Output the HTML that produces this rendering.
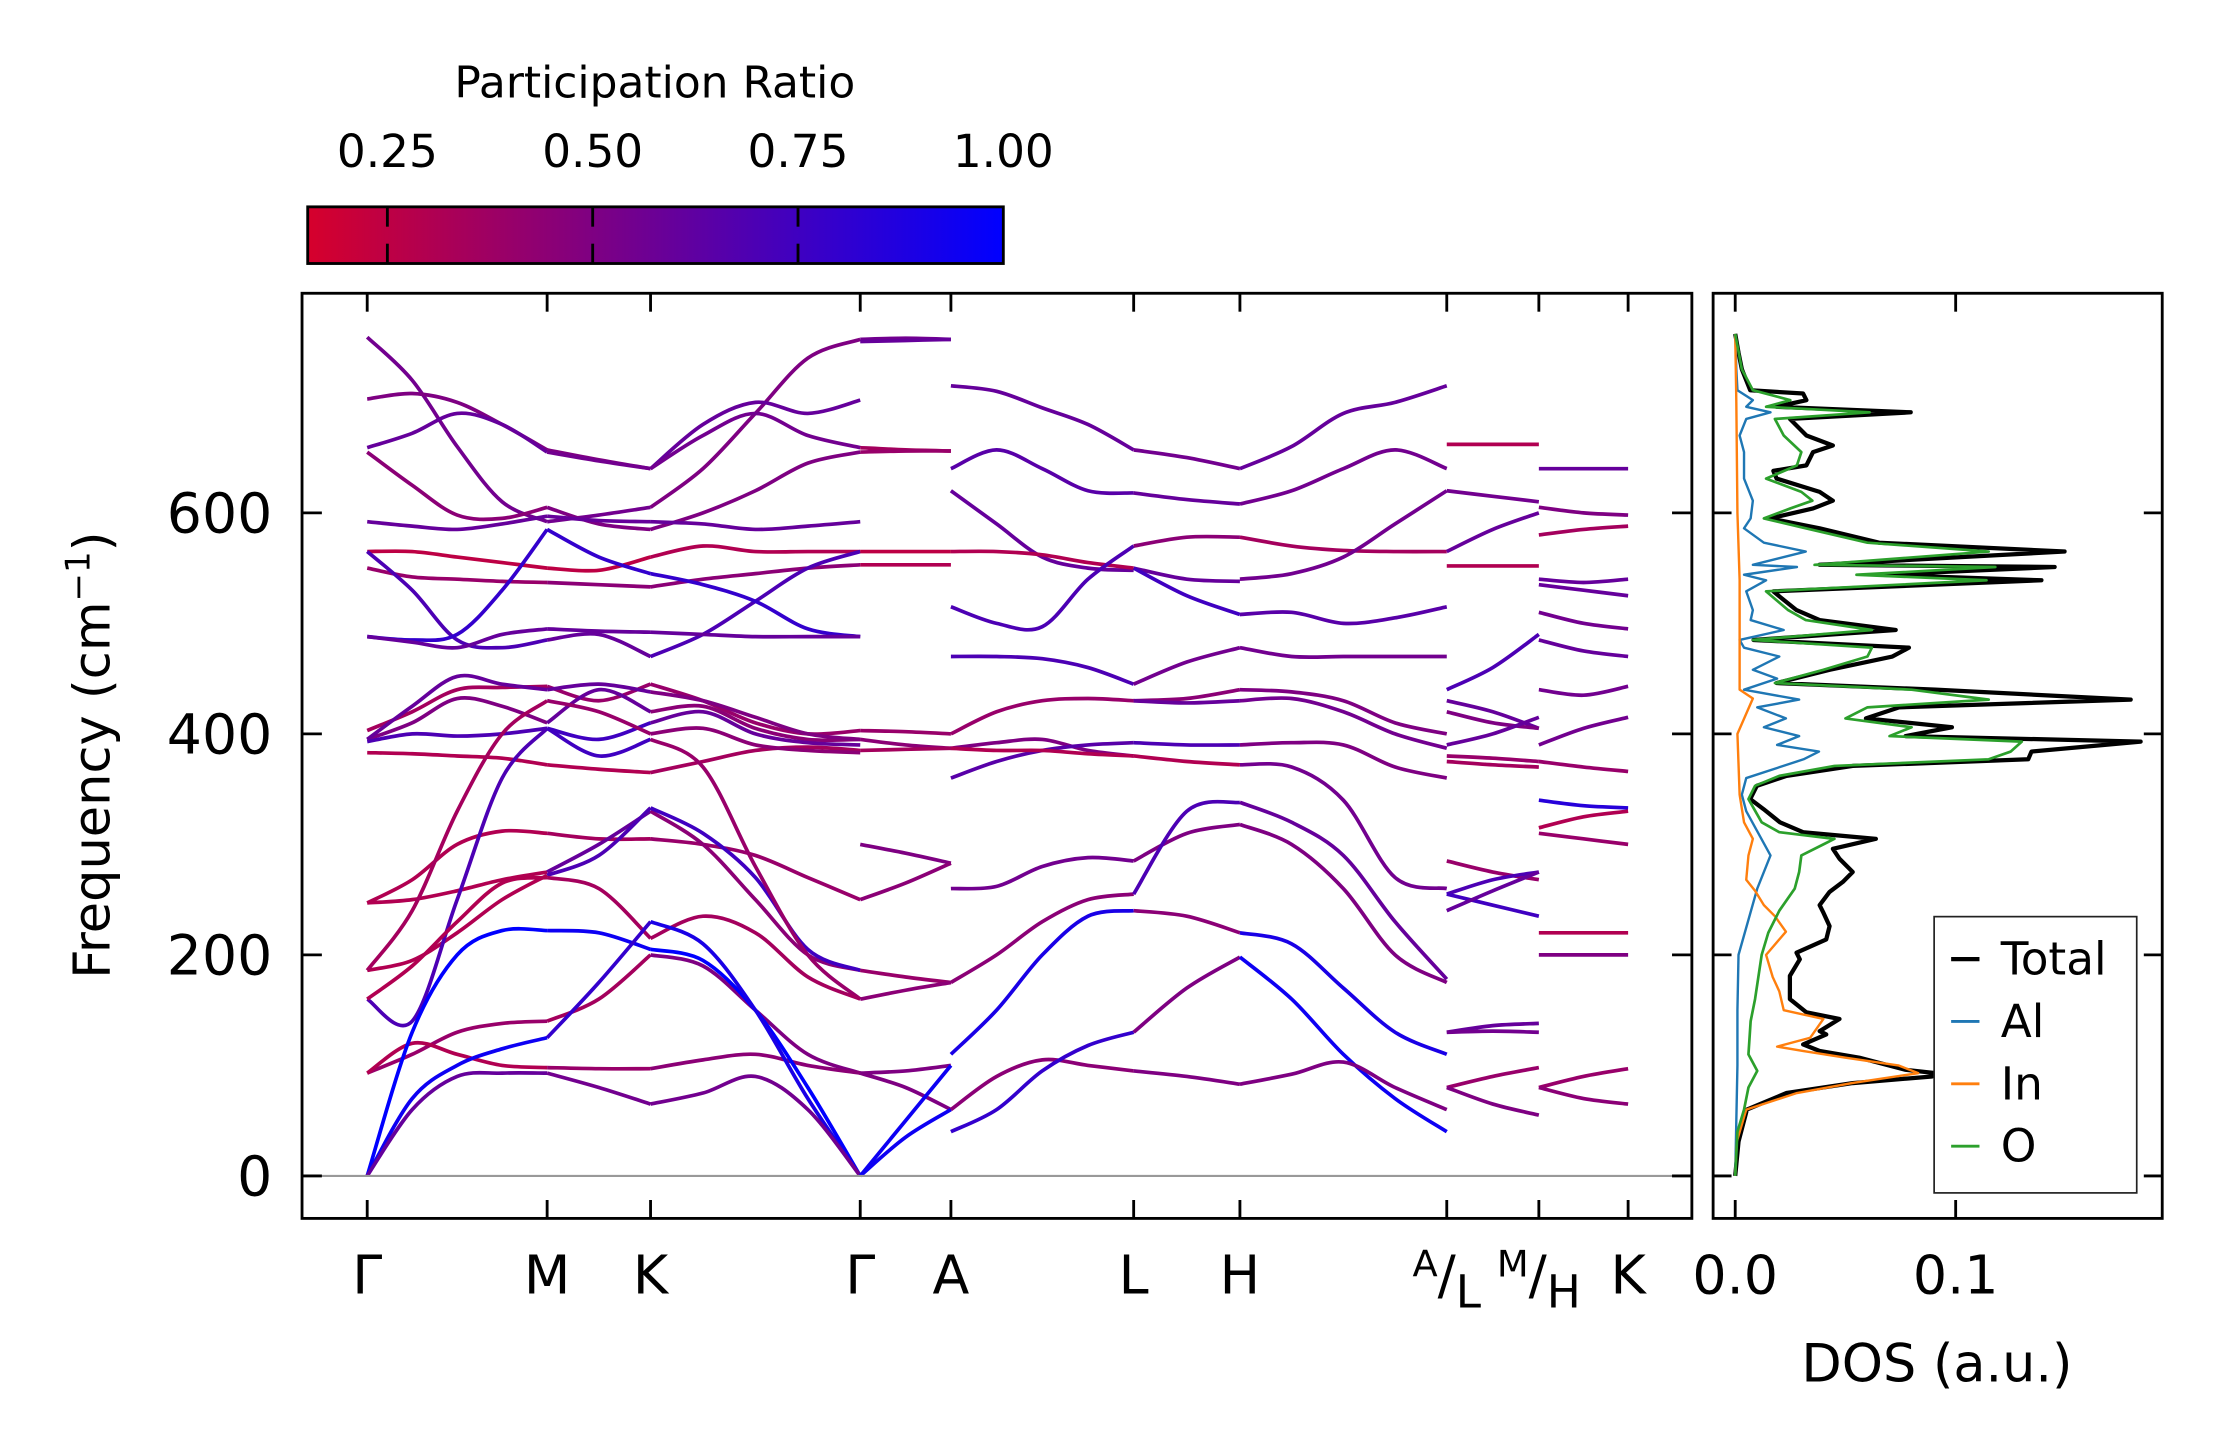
<!DOCTYPE html>
<html><head><meta charset="utf-8"><style>
html,body{margin:0;padding:0;background:#fff;}
svg{display:block;font-family:"DejaVu Sans","Liberation Sans",sans-serif;}
</style></head><body>
<svg id="fig" width="2222" height="1455" viewBox="0 0 1568 1027" xmlns="http://www.w3.org/2000/svg">
<defs>
<linearGradient id="cmap" x1="0" x2="1" y1="0" y2="0">
<stop offset="0" stop-color="rgb(214,0,44)"/><stop offset="1" stop-color="rgb(0,0,255)"/>
</linearGradient>
<clipPath id="mainclip"><rect x="213" y="207" width="981" height="653"/></clipPath>
<clipPath id="dosclip"><rect x="1209" y="207" width="317" height="653"/></clipPath>
</defs>
<g>
<text x="462" y="69" font-size="31" text-anchor="middle">Participation Ratio</text>
<rect x="217" y="146" width="491" height="40" fill="url(#cmap)" stroke="#000" stroke-width="2"/>
<g id="cbticks"></g>
</g>
<g id="bands" clip-path="url(#mainclip)"></g>
<line x1="213" y1="830" x2="1194" y2="830" stroke="#999" stroke-width="1.5"/>
<rect x="213" y="207" width="981" height="653" fill="none" stroke="#000" stroke-width="2"/>
<g id="mainticks"></g>
<text transform="translate(77,533) rotate(-90)" font-size="36" text-anchor="middle">Frequency (cm<tspan font-size="24" dy="-14">−1</tspan><tspan dy="14">)</tspan></text>
<g id="dos" clip-path="url(#dosclip)"></g>
<rect x="1209" y="207" width="317" height="653" fill="none" stroke="#000" stroke-width="2"/>
<g id="dosticks"></g>
<text x="1367" y="975" font-size="37" text-anchor="middle">DOS (a.u.)</text>
<g>
<rect x="1365" y="647" width="143" height="195" fill="#fff" stroke="#222" stroke-width="1.2"/>
<line x1="1377" y1="677" x2="1397" y2="677" stroke="#000" stroke-width="3"/>
<text x="1412" y="688" font-size="32">Total</text>
<line x1="1377" y1="721" x2="1397" y2="721" stroke="#1f77b4" stroke-width="2"/>
<text x="1412" y="732" font-size="32">Al</text>
<line x1="1377" y1="765" x2="1397" y2="765" stroke="#ff7f0e" stroke-width="2"/>
<text x="1412" y="776" font-size="32">In</text>
<line x1="1377" y1="809" x2="1397" y2="809" stroke="#2ca02c" stroke-width="2"/>
<text x="1412" y="820" font-size="32">O</text>
</g>
</svg>
<script>
// ---------- data ----------
const pathLabels = ["Γ","M","K","Γ","A","L","H","A/L","M/H","K"];
const pathPos = [0,127,200,348,412,541,616,762,827,890]; // path distance (arb. units)
const yTicks = [0,200,400,600];
const cbTicks = [0.25,0.50,0.75,1.00];
const cbRange = [0.153,1.0];
const dosTicks = [0.0,0.1];
// band segments: segment index -> list of bands (frequency knots, cm^-1)
const seg0 = [[759,720,660,610,592],[703,708,700,680,657],[659,672,690,680,655],[655,625,598,595,605],[592,588,585,590,597],[565,565,560,555,550],[550,542,540,538,537],[565,530,485,478,485],[488,485,490,530,585],[488,483,478,490,495],[403,420,440,442,443],[395,410,432,425,410],[393,400,398,400,405],[383,382,380,378,372],[395,425,452,445,440],[247,268,300,312,310],[247,250,258,268,275],[186,195,220,250,272],[186,240,330,400,430],[160,140,250,360,405],[160,190,230,265,270],[93,110,130,138,140],[93,120,110,100,98],[0,130,200,222,222],[0,70,100,115,125],[0,60,90,93,93]];
const pr0 = [.55,.5,.6,.45,.6,.25,.4,.7,.8,.6,.35,.5,.7,.3,.6,.3,.3,.3,.35,.7,.3,.4,.3,1,.95,.6];
const seg1 = [[592,598,605],[657,648,640],[655,647,640],[605,590,585],[597,593,592],[550,548,560],[537,535,533],[485,490,470],[585,560,545],[495,493,492],[443,430,445],[410,440,420],[405,395,410],[372,368,365],[440,445,438],[310,305,305],[275,300,330],[272,290,333],[430,420,400],[405,380,395],[270,260,215],[140,160,200],[98,97,97],[222,220,205],[125,175,230],[93,80,65]];
const pr1 = [.55,.5,.55,.5,.6,.25,.45,.6,.8,.6,.4,.6,.75,.3,.6,.35,.6,.7,.4,.75,.35,.35,.4,.95,.8,.55];
const seg2 = [[605,640,690,740,757],[640,680,700,690,702],[640,670,690,670,659],[585,600,620,645,655],[592,590,585,588,592],[560,570,565,565,565],[533,540,545,550,553],[470,490,520,550,565],[545,535,520,495,488],[492,490,488,488,488],[445,430,410,400,403],[420,425,405,395,395],[410,420,400,392,390],[365,375,385,388,385],[438,430,415,400,395],[305,300,290,270,250],[330,300,250,200,186],[333,310,270,205,186],[400,405,390,385,383],[395,370,280,200,160],[215,235,220,180,160],[200,190,150,110,93],[97,105,110,100,93],[205,195,150,80,0],[230,210,150,70,0],[65,75,90,60,0]];
const pr2 = [.5,.6,.55,.5,.6,.3,.45,.7,.8,.6,.4,.45,.6,.35,.5,.4,.45,.75,.45,.4,.35,.5,.45,1,.9,.55];
const seg3 = [[757,758,757],[755,756,757],[659,657,656],[655,656,656],[565,565,565],[553,553,553],[403,402,400],[395,390,387],[385,386,387],[300,292,283],[250,265,283],[186,180,175],[160,168,175],[93,80,60],[93,95,100],[0,50,100],[0,35,60]];
const pr3 = [.55,.6,.35,.4,.25,.3,.4,.45,.35,.5,.45,.4,.45,.5,.5,.95,.95];
const seg4 = [[715,710,695,680,657],[640,657,640,620,618],[620,590,560,550,548],[565,565,562,555,550],[515,500,497,540,570],[470,470,468,460,445],[400,420,430,432,430],[387,392,395,385,380],[360,375,385,390,392],[387,385,385,382,380],[260,262,280,288,285],[175,200,230,250,255],[110,150,200,235,240],[60,90,105,100,95],[40,60,95,118,130]];
const pr4 = [.6,.65,.6,.3,.7,.7,.4,.5,.65,.3,.55,.45,.9,.45,.8];
const seg5 = [[657,650,640],[618,612,608],[570,578,578],[550,540,538],[550,525,508],[445,465,478],[430,432,440],[430,428,430],[392,390,390],[380,375,372],[285,310,318],[255,330,338],[240,235,220],[130,170,198],[95,90,83]];
const pr5 = [.55,.6,.45,.6,.75,.55,.45,.6,.7,.3,.5,.7,.45,.5,.5];
const seg6 = [[640,660,690,700,715],[608,620,640,657,640],[578,570,566,565,565],[540,545,560,590,620],[508,510,500,505,515],[478,470,470,470,470],[440,438,430,410,400],[430,432,420,400,387],[390,392,390,370,360],[372,370,340,270,260],[338,320,290,230,178],[318,300,260,200,175],[220,210,170,130,110],[198,160,110,70,40],[83,92,103,80,60]];
const pr6 = [.6,.55,.35,.55,.65,.55,.5,.55,.5,.55,.6,.5,.9,.95,.5];
const seg7 = [[662,662,662],[620,615,610],[565,585,600],[552,552,552],[440,460,490],[430,420,405],[420,410,405],[390,400,415],[380,378,375],[375,372,370],[285,275,268],[255,268,275],[255,245,235],[240,258,275],[130,136,138],[130,131,130],[80,90,98],[80,65,55]];
const pr7 = [.3,.55,.6,.3,.7,.6,.5,.6,.4,.35,.4,.7,.75,.6,.6,.55,.4,.5];
const seg8 = [[640,640,640],[605,600,598],[580,585,588],[540,537,540],[535,530,525],[510,500,495],[485,475,470],[440,435,443],[390,405,415],[375,370,366],[340,335,333],[315,325,330],[310,305,300],[220,220,220],[200,200,200],[80,90,97],[80,70,65]];
const pr8 = [.6,.5,.35,.6,.6,.55,.6,.55,.55,.4,.85,.3,.4,.3,.5,.4,.45];
const segments = [seg0,seg1,seg2,seg3,seg4,seg5,seg6,seg7,seg8];
const segPR = [pr0,pr1,pr2,pr3,pr4,pr5,pr6,pr7,pr8];
// DOS data (values x1e-3)
const totalFreq = [0,31,60,75,84,90,93,96,107,113,119,128,131,142,148,160,181,196,202,214,226,239,245,257,266,275,287,296,305,311,320,332,341,353,362,371,377,384,393,398,406,414,424,431,440,446,458,470,478,485,494,503,512,524,529,539,544,551,553,565,573,586,595,604,611,619,631,638,643,655,661,670,685,691,696,702,708,711,730,745,762];
const totalDos = [0,1.5,5.3,23.3,53.3,89.3,90.8,77.3,56.3,38.3,30.8,41.3,38.3,47.3,32.3,24.8,24.8,29.3,27.8,41.3,42.8,39.8,38.3,42.8,48.8,53.3,47.3,44.3,63.8,30.8,20.3,12.8,6.8,9.8,23.3,53.3,132.9,134.4,183.9,77.3,98.3,59.3,74.3,179.4,90.8,18.8,42.8,71.3,78.8,8.3,72.8,38.3,27.8,20.3,17.3,138.9,65.3,144.9,38.3,149.4,65.3,38.3,15.8,35.3,44.3,38.3,18.8,17.3,32.3,35.3,44.3,32.3,24.8,79.6,18.8,32.3,30.8,6.8,3.0,1.5,0];
const alFreq = [0,100,150,200,260,290,330,345,360,377,384,390,398,406,414,424,431,440,450,458,470,478,485,494,503,512,529,539,544,551,553,565,573,586,595,611,631,655,670,685,691,696,702,711,730,762];
const alDos = [0,1,1,1.5,10,16,5,3,5,31,38,19,29,13,23,10,29,4,19,8,20,4,2,22,7,8,5,14,4,28,8,32,13,4,7,8,4,4,2,5,16,5,8,1,0.5,0];
const inFreq = [0,31,60,75,84,93,100,107,113,117,125,142,150,167,180,200,221,235,245,258,268,290,305,320,345,400,432,440,485,539,600,700,762];
const inDos = [0,0.7,5,28,53,83,74,50,31,19,34,40,22,20,17,14,23,18,13,9,5,6,8,4,2,1,8,2,2,2,1,0.5,0];
const oFreq = [0,40,60,80,95,110,140,160,200,220,240,260,275,290,300,305,311,320,341,353,362,371,377,384,393,398,406,414,424,431,440,446,458,470,478,485,494,503,512,529,539,544,551,553,565,573,586,595,604,611,619,631,643,655,670,685,691,696,702,711,730,762];
const oDos = [0,1,4,6,10,6,7,9,12,15,20,27,29,30,40,45,20,12,6,9,20,45,115,125,130,70,80,50,60,115,80,18,40,60,62,8,62,32,24,14,114,55,118,36,115,60,32,13,25,35,30,14,28,30,22,18,61,14,25,8,3,0];

// ---------- axes ----------
const NS="http://www.w3.org/2000/svg";
const X0=259, X1=1149;
const xPath = d => X0 + (d - pathPos[0])/(pathPos[pathPos.length-1]-pathPos[0])*(X1-X0);
const yF = f => 830 - f*0.78;
const xDos = v => 1224.6 + v*1556;
const xCb = p => 217 + (p - cbRange[0])/(cbRange[1]-cbRange[0])*491;
function color(p){let t=(p-cbRange[0])/(cbRange[1]-cbRange[0]);t=Math.max(0,Math.min(1,t));
 return `rgb(${Math.round(214*(1-t))},0,${Math.round(44+211*t)})`;}
function mk(tag,attrs,parent){const e=document.createElementNS(NS,tag);for(const k in attrs)e.setAttribute(k,attrs[k]);parent.appendChild(e);return e;}
function smooth(pts){let d=`M${pts[0][0].toFixed(2)},${pts[0][1].toFixed(2)}`;
 for(let i=0;i<pts.length-1;i++){const p0=pts[Math.max(0,i-1)],p1=pts[i],p2=pts[i+1],p3=pts[Math.min(pts.length-1,i+2)];
  const c1=[p1[0]+(p2[0]-p0[0])/6,p1[1]+(p2[1]-p0[1])/6],c2=[p2[0]-(p3[0]-p1[0])/6,p2[1]-(p3[1]-p1[1])/6];
  d+=`C${c1[0].toFixed(2)},${c1[1].toFixed(2)} ${c2[0].toFixed(2)},${c2[1].toFixed(2)} ${p2[0].toFixed(2)},${p2[1].toFixed(2)}`;}
 return d;}

// bands
const gB=document.getElementById('bands');
segments.forEach((seg,si)=>{
 const xa=xPath(pathPos[si]), xb=xPath(pathPos[si+1]);
 seg.forEach((band,bi)=>{
  const n=band.length;
  const pts=band.map((f,k)=>[xa+(xb-xa)*k/(n-1), yF(f)]);
  const el=mk('path',{d:smooth(pts),fill:'none',stroke:color(segPR[si][bi]),'stroke-width':2.6},gB);
  
  
 });
});

// main ticks
const gT=document.getElementById('mainticks');
pathPos.forEach((d,i)=>{
 const x=xPath(d);
 const t1=mk('line',{x1:x,y1:207,x2:x,y2:220,stroke:'#000','stroke-width':2},gT);
 
 
 const t2=mk('line',{x1:x,y1:860,x2:x,y2:847,stroke:'#000','stroke-width':2},gT);
 
 
 const lab=pathLabels[i];
 const tx=mk('text',{x:x,y:913,'font-size':38,'text-anchor':'middle'},gT);
 
 
 if(lab.includes('/')){
  const [a,b]=lab.split('/');
  tx.setAttribute('font-size','38');
  const s1=mk('tspan',{'font-size':26,dy:-12},tx);s1.textContent=a;
  const s2=mk('tspan',{'font-size':38,dy:12},tx);s2.textContent='/';
  const s3=mk('tspan',{'font-size':32,dy:10},tx);s3.textContent=b;
 } else tx.textContent=lab;
});
yTicks.forEach(v=>{
 const y=yF(v);
 const a=mk('line',{x1:213,y1:y,x2:227,y2:y,stroke:'#000','stroke-width':2},gT);
 
 
 const b=mk('line',{x1:1194,y1:y,x2:1180,y2:y,stroke:'#000','stroke-width':2},gT);
 
 
 const t=mk('text',{x:192,y:y+14,'font-size':39,'text-anchor':'end'},gT);
 
 
 t.textContent=String(v);
});

// colorbar ticks
const gC=document.getElementById('cbticks');
cbTicks.forEach(v=>{
 const x=xCb(v);
 if(v<cbRange[1]-1e-6){
  const a=mk('line',{x1:x,y1:146,x2:x,y2:160,stroke:'#000','stroke-width':2},gC);
  
  
  const b=mk('line',{x1:x,y1:172,x2:x,y2:186,stroke:'#000','stroke-width':2},gC);
  
  
 }
 const t=mk('text',{x:x,y:118,'font-size':32,'text-anchor':'middle'},gC);
 
 
 t.textContent=v.toFixed(2);
});

// DOS
const gD=document.getElementById('dos');
function dosLine(fr,vals,col,w,name){
 const d=fr.map((f,i)=>(i?'L':'M')+xDos(vals[i]/1000).toFixed(2)+','+yF(f).toFixed(2)).join('');
 const p=mk('path',{d:d,fill:'none',stroke:col,'stroke-width':w,'stroke-linejoin':'round'},gD);
 
 
}
dosLine(totalFreq,totalDos,'#000',3,'dos-total-line');
dosLine(alFreq,alDos,'#1f77b4',1.7,'dos-al-line');
dosLine(inFreq,inDos,'#ff7f0e',1.7,'dos-in-line');
dosLine(oFreq,oDos,'#2ca02c',1.9,'dos-o-line');
const gDT=document.getElementById('dosticks');
dosTicks.forEach(v=>{
 const x=xDos(v);
 const a=mk('line',{x1:x,y1:860,x2:x,y2:847,stroke:'#000','stroke-width':2},gDT);
 
 
 const b=mk('line',{x1:x,y1:207,x2:x,y2:220,stroke:'#000','stroke-width':2},gDT);
 
 
 const t=mk('text',{x:x,y:913,'font-size':38,'text-anchor':'middle'},gDT);
 
 
 t.textContent=v.toFixed(1);
});
yTicks.forEach(v=>{
 const y=yF(v);
 const a=mk('line',{x1:1209,y1:y,x2:1222,y2:y,stroke:'#000','stroke-width':2},gDT);
 
 
 const b=mk('line',{x1:1526,y1:y,x2:1513,y2:y,stroke:'#000','stroke-width':2},gDT);
 
 
});
</script>
</body></html>
